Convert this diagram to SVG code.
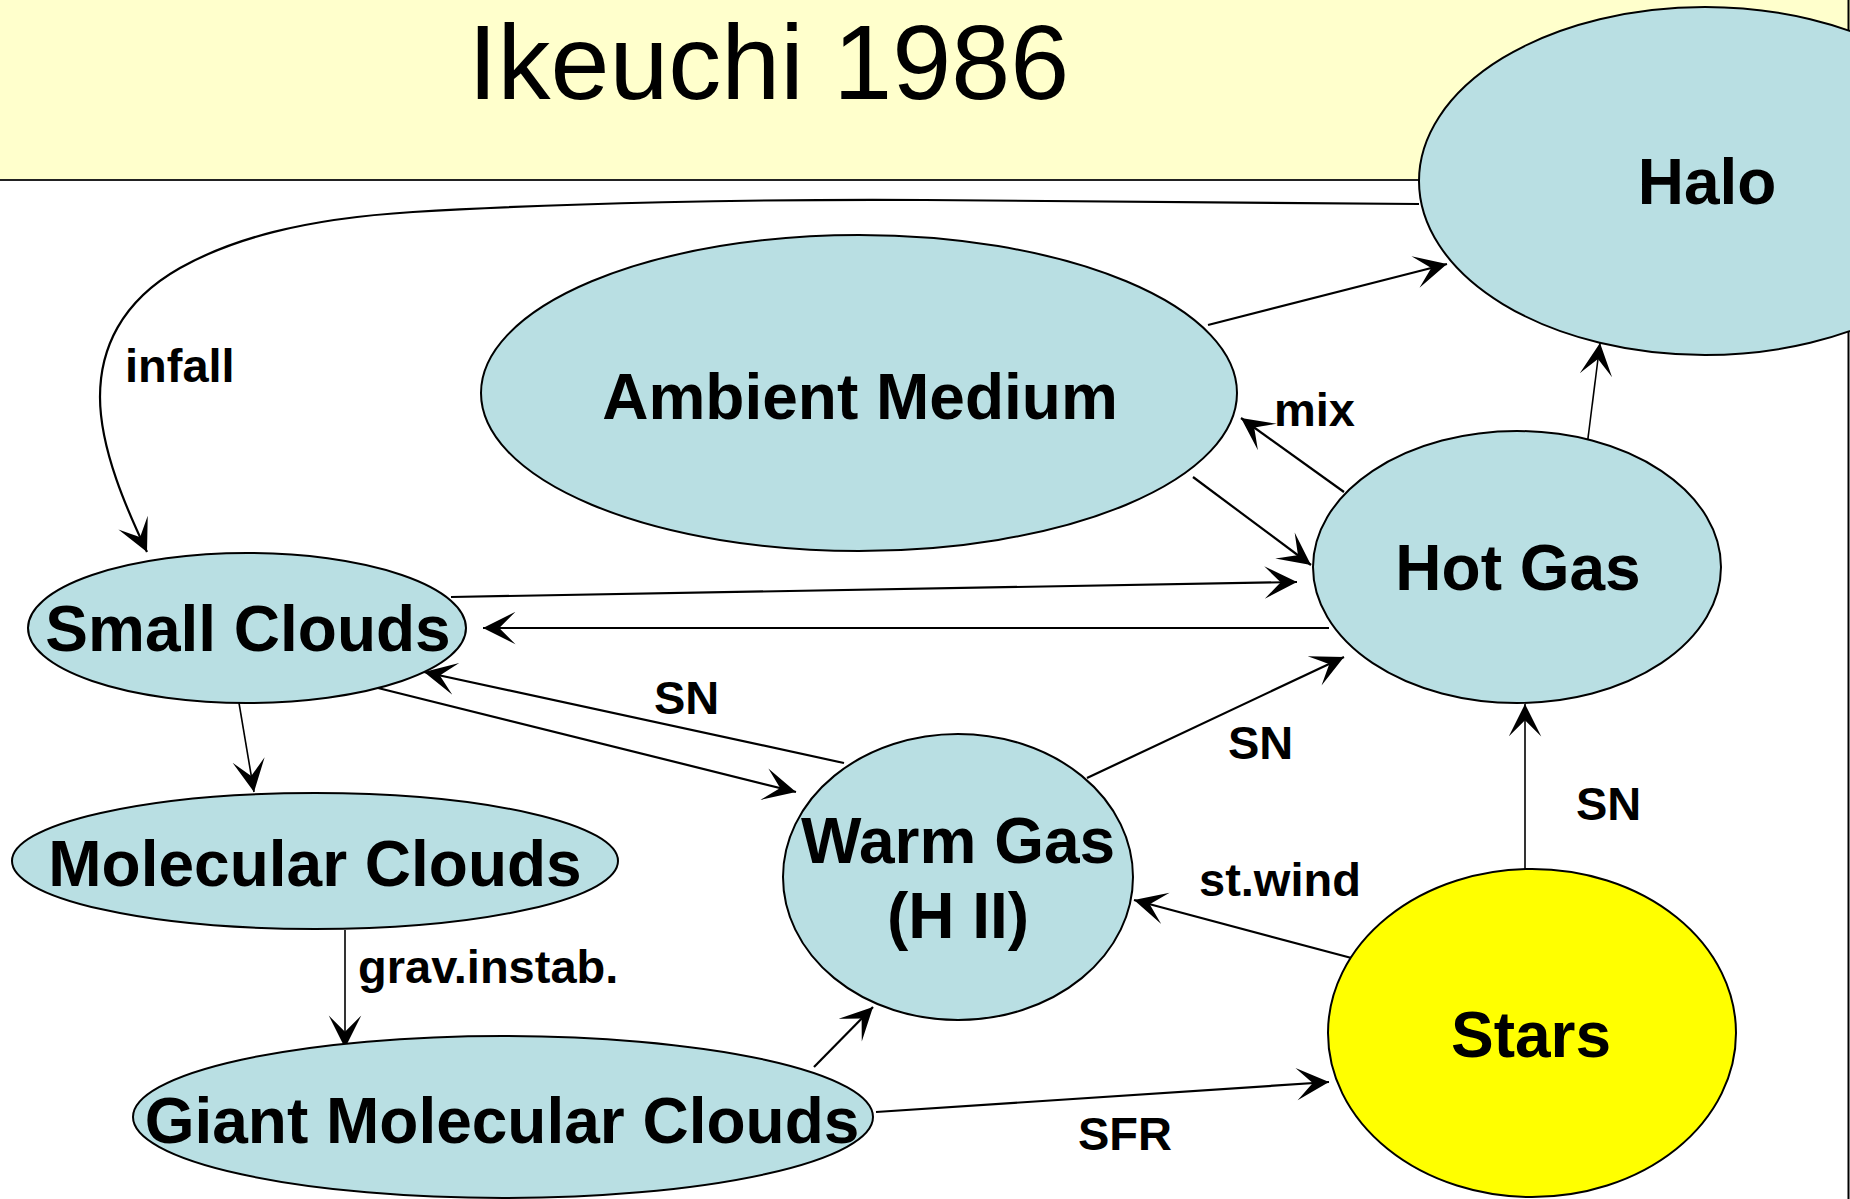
<svg xmlns="http://www.w3.org/2000/svg" width="1850" height="1199" viewBox="0 0 1850 1199">
<defs>
<marker id="arr" markerUnits="userSpaceOnUse" markerWidth="40" markerHeight="40" viewBox="-30 -16 32 32" refX="0" refY="0" orient="auto">
<path d="M0,0 L-26,-13 Q-17,-4 -13,0 Q-17,4 -26,13 Z" fill="#000"/>
</marker>
</defs>
<style>
.node{fill:#B9DFE3;stroke:#000;stroke-width:2}
.star{fill:#FFFF00;stroke:#000;stroke-width:2}
.nt{font-family:"Liberation Sans",Arial,sans-serif;font-weight:bold;font-size:64px;fill:#000;text-anchor:middle}
.lb{font-family:"Liberation Sans",Arial,sans-serif;font-weight:bold;font-size:47px;fill:#000}
.c{fill:none;stroke:#000;stroke-width:2.2;marker-end:url(#arr)}
.thin{stroke-width:1.6}
</style>
<rect x="0" y="0" width="1850" height="1199" fill="#FFFFFF"/>
<rect x="0" y="0" width="1850" height="180" fill="#FFFFCC"/>
<line x1="0" y1="180" x2="1500" y2="180" stroke="#222" stroke-width="2"/>
<line x1="1848.5" y1="0" x2="1848.5" y2="1199" stroke="#000" stroke-width="2"/>
<text x="468" y="99" font-family="'Liberation Sans',Arial,sans-serif" font-size="106" fill="#000">Ikeuchi 1986</text>

<g id="connectors">
<path class="c" d="M1419,204 L925,200 C760,199 560,203 413,212 C300,219 230,240 180,268 C120,302 100,350 100,397 C100,450 128,512 147,552"/>
<path class="c" d="M1208,325 L1447,264"/>
<path class="c thin" d="M1587,446 L1600,343"/>
<path class="c" d="M1344,492 L1241,418"/>
<path class="c" d="M1193,477 L1311,565"/>
<path class="c" d="M451,597 L1297,582"/>
<path class="c" d="M1329,628 L483,628"/>
<path class="c" d="M844,763 L424,672"/>
<path class="c" d="M378,688 L796,792"/>
<path class="c thin" d="M239,703 L254,792"/>
<path class="c" d="M1087,778 L1344,657"/>
<path class="c thin" d="M1525,869 L1525,704"/>
<path class="c" d="M1359,960 L1134,900"/>
<path class="c" d="M876,1112 L1329,1082"/>
<path class="c" d="M814,1067 L873,1007"/>
<path class="c thin" d="M345,930 L345,1048"/>
<text class="lb" x="125" y="382">infall</text>
<text class="lb" x="1274" y="426">mix</text>
<text class="lb" x="654" y="714">SN</text>
<text class="lb" x="1228" y="759">SN</text>
<text class="lb" x="1576" y="820">SN</text>
<text class="lb" x="1199" y="896">st.wind</text>
<text class="lb" x="1078" y="1150">SFR</text>
<text class="lb" x="358" y="983">grav.instab.</text>
</g>

<g id="halo"><ellipse class="node" cx="1705" cy="181" rx="286" ry="174"/><text class="nt" x="1707" y="204">Halo</text></g>
<g id="ambient-medium"><ellipse class="node" cx="859" cy="393" rx="378" ry="158"/><text class="nt" x="860" y="419">Ambient Medium</text></g>
<g id="hot-gas"><ellipse class="node" cx="1517" cy="567" rx="204" ry="136"/><text class="nt" x="1518" y="590">Hot Gas</text></g>
<g id="small-clouds"><ellipse class="node" cx="247" cy="628" rx="219" ry="75"/><text class="nt" x="248" y="651">Small Clouds</text></g>
<g id="molecular-clouds"><ellipse class="node" cx="315" cy="861" rx="303" ry="68"/><text class="nt" x="315" y="886">Molecular Clouds</text></g>
<g id="warm-gas"><ellipse class="node" cx="958" cy="877" rx="175" ry="143"/><text class="nt" x="958" y="863">Warm Gas</text><text class="nt" x="958" y="938">(H II)</text></g>
<g id="giant-molecular-clouds"><ellipse class="node" cx="503" cy="1117" rx="370" ry="81"/><text class="nt" x="502" y="1143">Giant Molecular Clouds</text></g>
<g id="stars"><ellipse class="star" cx="1532" cy="1033" rx="204" ry="164"/><text class="nt" x="1531" y="1057">Stars</text></g>
</svg>
